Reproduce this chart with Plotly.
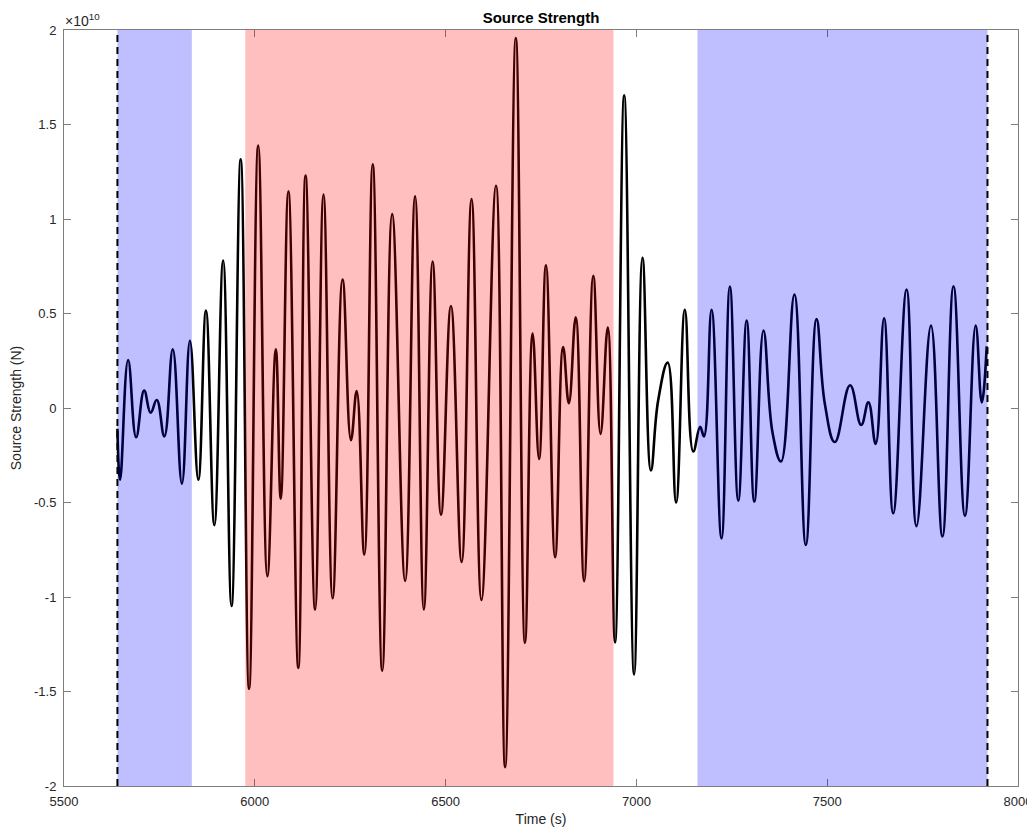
import plotly.graph_objects as go

SCALE = 1e10

# Time (s) of each read point (extrema and shoulders of the trace)
time_s = [
    5640, 5647, 5668, 5689, 5710, 5727, 5743, 5763, 5785, 5809,
    5830, 5852, 5872, 5894, 5917, 5939, 5963, 5985, 6009, 6033,
    6055, 6068, 6088, 6114, 6133, 6158, 6180, 6204, 6230, 6252,
    6267, 6287, 6309, 6334, 6360, 6394, 6420, 6443, 6466, 6488,
    6514, 6542, 6568, 6594, 6632, 6656, 6684, 6708, 6728, 6745,
    6763, 6787, 6808, 6823, 6841, 6863, 6887, 6906, 6925, 6944,
    6968, 6994, 7016, 7038, 7057, 7082, 7104, 7127, 7149, 7167,
    7177, 7197, 7223, 7245, 7267, 7289, 7309, 7333, 7357, 7379,
    7414, 7444, 7472, 7494, 7520, 7560, 7589, 7608, 7627, 7649,
    7673, 7708, 7734, 7772, 7802, 7831, 7861, 7889, 7905, 7918,
]

# Source strength in units of 1e10 N
strength_e10 = [
    -0.11, -0.38, 0.254, -0.155, 0.092, -0.025, 0.042, -0.15, 0.31, -0.40,
    0.356, -0.38, 0.515, -0.62, 0.78, -1.048, 1.316, -1.486, 1.389, -0.89,
    0.31, -0.48, 1.147, -1.375, 1.23, -1.066, 1.13, -1.007, 0.68, -0.17,
    0.09, -0.775, 1.29, -1.39, 1.026, -0.915, 1.12, -1.066, 0.775, -0.565,
    0.54, -0.815, 1.105, -1.016, 1.176, -1.90, 1.958, -1.243, 0.394, -0.27,
    0.755, -0.79, 0.323, 0.025, 0.48, -0.916, 0.70, -0.137, 0.426, -1.24,
    1.654, -1.41, 0.795, -0.33, 0.04, 0.24, -0.50, 0.52, -0.23, -0.10,
    -0.15, 0.52, -0.69, 0.643, -0.49, 0.463, -0.495, 0.41, -0.134, -0.283,
    0.60, -0.725, 0.47, 0.02, -0.18, 0.12, -0.09, 0.03, -0.19, 0.475,
    -0.557, 0.627, -0.625, 0.436, -0.68, 0.644, -0.57, 0.436, 0.03, 0.326,
]

blue_bands = [(5640, 5835), (7160, 7920)]
red_bands = [(5975, 6940)]
window_edges = [5640, 7920]

x_ticks = [5500, 6000, 6500, 7000, 7500, 8000]
y_ticks_e10 = [-2, -1.5, -1, -0.5, 0, 0.5, 1, 1.5, 2]
y_tick_labels = ["-2", "-1.5", "-1", "-0.5", "0", "0.5", "1", "1.5", "2"]

X_RANGE = [5500, 8000]
Y_RANGE = [-2 * SCALE, 2 * SCALE]

FONT = "Liberation Sans, Arial, Helvetica, sans-serif"
AXC = "#262626"
FRAME = "rgb(125,125,125)"

# the page body adds an 8px margin, so the figure is sized to fit inside it
W, H = 1027, 824

fig = go.Figure()
fig.add_trace(go.Scatter(
    x=time_s,
    y=[v * SCALE for v in strength_e10],
    mode="lines",
    line=dict(color="black", width=2.6, shape="spline", smoothing=1.25),
    hoverinfo="skip",
    showlegend=False,
))

for x0, x1 in blue_bands:
    fig.add_shape(type="rect", xref="x", yref="y", x0=x0, x1=x1,
                  y0=Y_RANGE[0], y1=Y_RANGE[1], layer="above",
                  fillcolor="rgba(0,0,255,0.25)", line=dict(width=0))
for x0, x1 in red_bands:
    fig.add_shape(type="rect", xref="x", yref="y", x0=x0, x1=x1,
                  y0=Y_RANGE[0], y1=Y_RANGE[1], layer="above",
                  fillcolor="rgba(255,0,0,0.25)", line=dict(width=0))
for xe in window_edges:
    fig.add_shape(type="line", xref="x", yref="y", x0=xe, x1=xe,
                  y0=Y_RANGE[0], y1=Y_RANGE[1], layer="above",
                  line=dict(color="black", width=2, dash="7px,5px"))

fig.add_annotation(
    text="\u00d710<sup>10</sup>", xref="paper", yref="paper", x=0, y=1,
    xanchor="left", yanchor="bottom", showarrow=False, yshift=-1, xshift=-1,
    font=dict(family=FONT, size=14, color=AXC),
)

fig.update_layout(
    width=W, height=H,
    margin=dict(l=56, r=17, t=22, b=46, autoexpand=False),
    paper_bgcolor="white", plot_bgcolor="white",
    font=dict(family=FONT, color=AXC),
    title=dict(text="<b>Source Strength</b>", x=0.5, xref="paper",
               y=1 - 9.5 / H, yref="container", xanchor="center", yanchor="middle",
               font=dict(family=FONT, size=15, color="black")),
    xaxis=dict(
        range=X_RANGE, tickvals=x_ticks, ticktext=[str(t) for t in x_ticks],
        ticks="inside", ticklen=7, tickcolor=FRAME, tickwidth=1,
        showline=True, linecolor=FRAME, linewidth=1, mirror="ticks",
        showgrid=False, zeroline=False, automargin=False,
        tickfont=dict(family=FONT, size=13, color=AXC), ticklabelstandoff=3,
        title=dict(text="Time (s)", font=dict(family=FONT, size=14, color=AXC), standoff=6),
    ),
    yaxis=dict(
        range=Y_RANGE, tickvals=[v * SCALE for v in y_ticks_e10], ticktext=y_tick_labels,
        ticks="inside", ticklen=7, tickcolor=FRAME, tickwidth=1,
        showline=True, linecolor=FRAME, linewidth=1, mirror="ticks",
        showgrid=False, zeroline=False, automargin=False,
        tickfont=dict(family=FONT, size=13, color=AXC), ticklabelstandoff=4,
        title=dict(text="Source Strength (N)", font=dict(family=FONT, size=14, color=AXC), standoff=9),
    ),
)

fig.write_html("out.html")
